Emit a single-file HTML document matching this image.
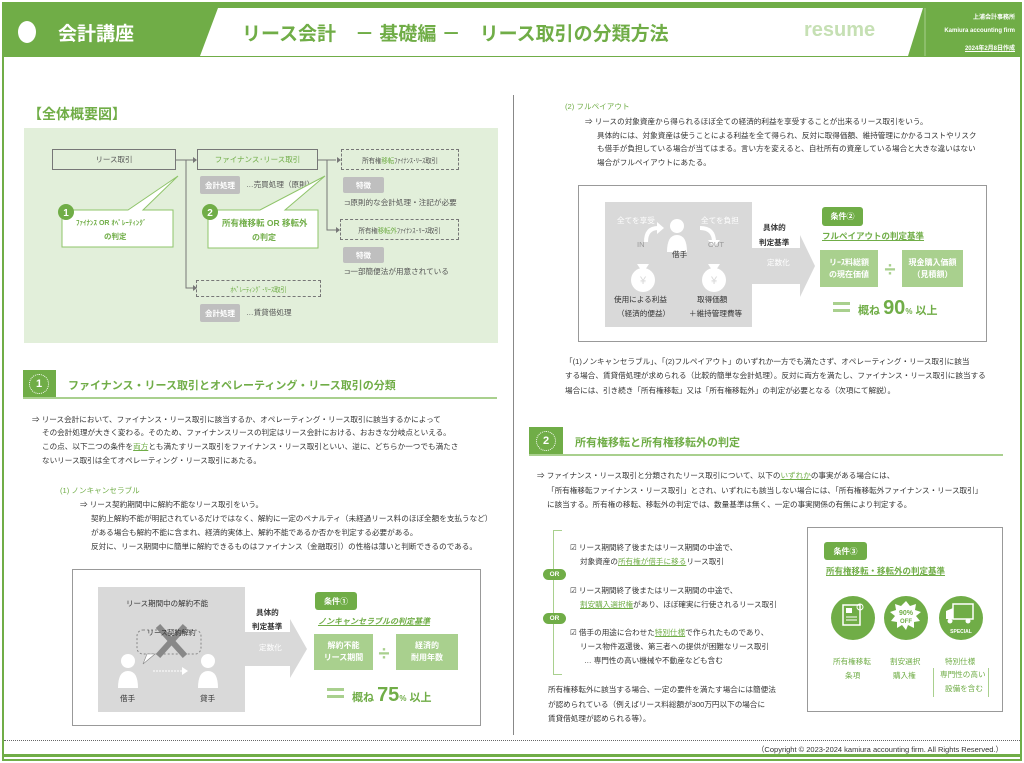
<!DOCTYPE html>
<html><head><meta charset="utf-8">
<style>
*{margin:0;padding:0;box-sizing:border-box}
body{width:1024px;height:763px;position:relative;background:#fff;font-family:"Liberation Sans","Noto Sans CJK JP",sans-serif;color:#333;overflow:hidden}
.a{position:absolute;white-space:nowrap}
.t{position:absolute;white-space:nowrap;font-size:7.6px;line-height:10px;color:#333}
.g{color:#70ad47}
.u{text-decoration:underline;color:#70ad47}
.box{position:absolute;border:1.3px solid #777;background:#e2efda;font-size:7.5px;color:#555;display:flex;align-items:center;justify-content:center;white-space:nowrap;overflow:hidden}
.dash{border-style:dashed;font-size:6.6px;letter-spacing:-0.2px}
.pill{position:absolute;background:#bfbfbf;color:#fff;font-size:7.5px;border-radius:2px;display:flex;align-items:center;justify-content:center;font-weight:bold}
.gp{position:absolute;background:#70ad47;color:#fff;font-size:8px;border-radius:3px;display:flex;align-items:center;justify-content:center;font-weight:bold}
.lg{position:absolute;background:#a9d08e;color:#fff;font-size:8px;display:flex;align-items:center;justify-content:center;text-align:center;line-height:12px;font-weight:bold}
.ln{position:absolute;background:#777}
.ci{position:absolute;border-radius:50%;background:#70ad47}
</style></head><body>
<div class="a" style="left:2px;top:2px;width:1020px;height:759px;border:2px solid #70ad47"></div>
<div class="a" style="left:4px;top:4px;width:1016px;height:53px;background:#70ad47"></div>
<div class="a" style="left:18px;top:21px;width:18px;height:22px;border-radius:50%;background:#fff"></div>
<div class="a" style="left:58px;top:19px;font-size:19px;color:#fff;font-weight:bold">会計講座</div>
<svg class="a" style="left:0;top:0" width="1024" height="60"><polygon points="218,8 923,8 908,56 200,56" fill="#fff"/><line x1="925" y1="8" x2="925" y2="56" stroke="#a9d08e" stroke-width="1"/></svg>
<div class="a" style="left:242px;top:19px;font-size:19px;color:#70ad47;font-weight:bold">リース会計　－ 基礎編 －　リース取引の分類方法</div>
<div class="a" style="left:804px;top:19px;font-size:20px;color:#c6e0b4;font-weight:bold">resume</div>
<div class="a" style="left:960px;top:12px;font-size:6px;color:#fff;font-weight:bold;text-align:right;width:55px">上浦会計事務所</div>
<div class="a" style="left:925px;top:28px;font-size:6px;color:#fff;font-weight:bold;text-align:right;width:90px">Kamiura accounting firm</div>
<div class="a" style="left:940px;top:43px;font-size:6px;color:#fff;font-weight:bold;text-align:right;width:75px;text-decoration:underline">2024年2月8日作成</div>

<div class="a" style="left:513px;top:95px;width:1px;height:640px;background:#888"></div>

<div class="a" style="left:28px;top:104px;font-size:14px;color:#70ad47;font-weight:bold">【全体概要図】</div>
<div class="a" style="left:24px;top:128px;width:474px;height:215px;background:#e2efda"></div>
<div class="box" style="left:52px;top:149px;width:124px;height:21px">リース取引</div>
<div class="box" style="left:197px;top:149px;width:121px;height:21px;color:#70ad47">ファイナンス･リース取引</div>
<div class="box dash" style="left:341px;top:149px;width:118px;height:21px">所有権<span class="g">移転</span>ﾌｧｲﾅﾝｽ･ﾘｰｽ取引</div>
<div class="box dash" style="left:340px;top:219px;width:119px;height:21px">所有権<span class="g">移転外</span>ﾌｧｲﾅﾝｽ･ﾘｰｽ取引</div>
<div class="box dash" style="left:196px;top:280px;width:125px;height:17px;color:#70ad47">ｵﾍﾟﾚｰﾃｨﾝｸﾞ･ﾘｰｽ取引</div>
<div class="pill" style="left:200px;top:176px;width:40px;height:18px">会計処理</div>
<div class="t" style="left:246px;top:180px;color:#555">…売買処理（原則）</div>
<div class="pill" style="left:343px;top:177px;width:41px;height:16px">特徴</div>
<div class="t" style="left:344px;top:198px;color:#555">⊐原則的な会計処理・注記が必要</div>
<div class="pill" style="left:343px;top:247px;width:41px;height:16px">特徴</div>
<div class="t" style="left:344px;top:267px;color:#555">⊐一部簡便法が用意されている</div>
<div class="pill" style="left:200px;top:304px;width:40px;height:18px">会計処理</div>
<div class="t" style="left:246px;top:308px;color:#555">…賃貸借処理</div>
<svg class="a" style="left:0;top:0" width="520" height="350">
<g stroke="#777" stroke-width="1" fill="none"><polyline points="176,160 186,160 186,288 193,288"/><line x1="186" y1="160" x2="193" y2="160"/><polyline points="318,160 327,160 327,230 336,230"/><line x1="327" y1="160" x2="336" y2="160"/></g>
<g fill="#777"><polygon points="193,157 197,160 193,163"/><polygon points="193,285 197,288 193,291"/><polygon points="337,157 341,160 337,163"/><polygon points="336,227 340,230 336,233"/></g>
<polygon points="62,210 128,210 178,176 143,210 173,210 173,247 62,247" fill="#fff" stroke="#8fc46a" stroke-width="1"/>
<polygon points="208,210 260,210 325,176 285,210 318,210 318,248 208,248" fill="#fff" stroke="#8fc46a" stroke-width="1"/>
<circle cx="66" cy="212" r="8" fill="#70ad47"/><circle cx="210" cy="212" r="8" fill="#70ad47"/>
<text x="66" y="216" fill="#fff" font-size="10" font-weight="bold" text-anchor="middle" font-family="Liberation Sans">1</text>
<text x="210" y="216" fill="#fff" font-size="10" font-weight="bold" text-anchor="middle" font-family="Liberation Sans">2</text>
</svg>
<div class="a" style="left:76px;top:218px;font-size:7px;color:#70ad47;font-weight:bold">ﾌｧｲﾅﾝｽ OR ｵﾍﾟﾚｰﾃｨﾝｸﾞ</div>
<div class="a" style="left:104px;top:231px;font-size:7.5px;color:#70ad47;font-weight:bold">の判定</div>
<div class="a" style="left:222px;top:217px;font-size:8.5px;color:#70ad47;font-weight:bold">所有権移転 OR 移転外</div>
<div class="a" style="left:252px;top:232px;font-size:8px;color:#70ad47;font-weight:bold">の判定</div>

<div class="a" style="left:23px;top:370px;width:33px;height:28px;background:#70ad47"></div>
<div class="a" style="left:29px;top:374px;width:20px;height:20px;border:1px dotted #fff;border-radius:50%;color:#fff;font-size:11px;font-weight:bold;text-align:center;line-height:18px">1</div>
<div class="a" style="left:23px;top:397px;width:474px;height:2px;background:#a9d08e"></div>
<div class="a" style="left:68px;top:377px;font-size:11px;color:#70ad47;font-weight:bold">ファイナンス・リース取引とオペレーティング・リース取引の分類</div>
<div class="t" style="left:32px;top:415px">⇒ リース会計において、ファイナンス・リース取引に該当するか、オペレーティング・リース取引に該当するかによって</div>
<div class="t" style="left:42px;top:428px">その会計処理が大きく変わる。そのため、ファイナンスリースの判定はリース会計における、おおきな分岐点といえる。</div>
<div class="t" style="left:42px;top:442px">この点、以下二つの条件を<span class="u">両方</span>とも満たすリース取引をファイナンス・リース取引といい、逆に、どちらか一つでも満たさ</div>
<div class="t" style="left:42px;top:456px">ないリース取引は全てオペレーティング・リース取引にあたる。</div>
<div class="t g" style="left:60px;top:486px">(1) ノンキャンセラブル</div>
<div class="t" style="left:80px;top:500px">⇒ リース契約期間中に解約不能なリース取引をいう。</div>
<div class="t" style="left:91px;top:514px">契約上解約不能が明記されているだけではなく、解約に一定のペナルティ（未経過リース料のほぼ全額を支払うなど）</div>
<div class="t" style="left:91px;top:528px">がある場合も解約不能に含まれ、経済的実体上、解約不能であるか否かを判定する必要がある。</div>
<div class="t" style="left:91px;top:542px">反対に、リース期間中に簡単に解約できるものはファイナンス（金融取引）の性格は薄いと判断できるのである。</div>

<div class="a" style="left:72px;top:569px;width:409px;height:157px;border:1.5px solid #999"></div>
<div class="a" style="left:98px;top:587px;width:147px;height:125px;background:#d9d9d9"></div>
<svg class="a" style="left:0;top:560" width="520" height="170">
<polygon points="245,72 290,72 290,59 307,89 290,118 290,106 245,106" fill="#d9d9d9"/>
<rect x="137" y="70" width="64" height="24" rx="6" fill="none" stroke="#888" stroke-dasharray="2,2"/>
<polygon points="147,94 143,104 155,94" fill="#fff" stroke="#888" stroke-width=".6"/>
<line x1="158" y1="66" x2="185" y2="96" stroke="#888" stroke-width="6"/><line x1="185" y1="66" x2="158" y2="96" stroke="#888" stroke-width="6"/>
<circle cx="128" cy="101" r="7" fill="#fff"/><path d="M118,128 q0,-17 10,-17 q10,0 10,17z" fill="#fff"/>
<circle cx="208" cy="101" r="7" fill="#fff"/><path d="M198,128 q0,-17 10,-17 q10,0 10,17z" fill="#fff"/>
<line x1="153" y1="111" x2="182" y2="111" stroke="#fff" stroke-dasharray="2,1"/><polygon points="182,107 188,111 182,115" fill="#fff"/>
<rect x="327" y="128" width="17" height="3" fill="#a9d08e"/><rect x="327" y="135" width="17" height="3" fill="#a9d08e"/>
<text x="384" y="100" font-size="20" fill="#a9d08e" text-anchor="middle" font-weight="bold">÷</text>
</svg>
<div class="t" style="left:126px;top:599px;font-size:7.5px">リース期間中の解約不能</div>
<div class="t" style="left:147px;top:629px;font-size:7px">リース契約解約</div>
<div class="t" style="left:120px;top:694px">借手</div>
<div class="t" style="left:200px;top:694px">貸手</div>
<div class="t" style="left:256px;top:608px;font-weight:bold">具体的</div>
<div class="t" style="left:252px;top:622px;font-weight:bold">判定基準</div>
<div class="t" style="left:259px;top:643px;color:#fff">定数化</div>
<div class="gp" style="left:315px;top:592px;width:42px;height:18px">条件①</div>
<div class="t u" style="left:318px;top:617px;font-size:8px;font-style:italic;font-weight:bold">ノンキャンセラブルの判定基準</div>
<div class="lg" style="left:314px;top:634px;width:59px;height:36px">解約不能<br>リース期間</div>
<div class="lg" style="left:396px;top:634px;width:62px;height:36px">経済的<br>耐用年数</div>
<div class="a" style="left:352px;top:684px;font-size:11px;color:#70ad47;font-weight:bold">概ね <span style="font-size:20px">75</span><span style="font-size:8px">%</span> 以上</div>

<div class="t g" style="left:565px;top:102px">(2) フルペイアウト</div>
<div class="t" style="left:585px;top:117px">⇒ リースの対象資産から得られるほぼ全ての経済的利益を享受することが出来るリース取引をいう。</div>
<div class="t" style="left:597px;top:131px">具体的には、対象資産は使うことによる利益を全て得られ、反対に取得価額、維持管理にかかるコストやリスク</div>
<div class="t" style="left:597px;top:144px">も借手が負担している場合が当てはまる。言い方を変えると、自社所有の資産している場合と大きな違いはない</div>
<div class="t" style="left:597px;top:158px">場合がフルペイアウトにあたる。</div>

<div class="a" style="left:578px;top:185px;width:409px;height:157px;border:1.5px solid #999"></div>
<div class="a" style="left:605px;top:202px;width:147px;height:125px;background:#d9d9d9"></div>
<svg class="a" style="left:0;top:180" width="1024" height="170">
<polygon points="752,68 800,68 800,55 815,86 800,117 800,104 752,104" fill="#d9d9d9"/>
<circle cx="677" cy="46" r="7" fill="#fff"/><path d="M667,72 q0,-17 10,-17 q10,0 10,17z" fill="#fff"/>
<path d="M646,62 q0,-14 12,-14" stroke="#fff" stroke-width="4" fill="none"/><polygon points="657,42 664,48 657,54" fill="#fff"/>
<path d="M700,48 q14,0 14,14" stroke="#fff" stroke-width="4" fill="none"/><polygon points="708,60 714,67 720,60" fill="#fff"/>
<circle cx="643" cy="100" r="12" fill="#fff"/><polygon points="637,84 649,84 645,90 641,90" fill="#fff"/>
<circle cx="714" cy="100" r="12" fill="#fff"/><polygon points="708,84 720,84 716,90 712,90" fill="#fff"/>
<text x="643" y="104" font-size="11" fill="#d9d9d9" text-anchor="middle">¥</text>
<text x="714" y="104" font-size="11" fill="#d9d9d9" text-anchor="middle">¥</text>
<rect x="833" y="122" width="17" height="3" fill="#a9d08e"/><rect x="833" y="129" width="17" height="3" fill="#a9d08e"/>
<text x="890" y="96" font-size="20" fill="#a9d08e" text-anchor="middle" font-weight="bold">÷</text>
</svg>
<div class="t" style="left:617px;top:216px;color:#fff">全てを享受</div>
<div class="t" style="left:701px;top:216px;color:#fff">全てを負担</div>
<div class="t" style="left:637px;top:240px;color:#999">IN</div>
<div class="t" style="left:708px;top:240px;color:#999">OUT</div>
<div class="t" style="left:672px;top:250px">借手</div>
<div class="t" style="left:614px;top:295px">使用による利益</div>
<div class="t" style="left:617px;top:309px">（経済的便益）</div>
<div class="t" style="left:697px;top:295px">取得価額</div>
<div class="t" style="left:689px;top:309px">＋維持管理費等</div>
<div class="t" style="left:763px;top:223px;font-weight:bold">具体的</div>
<div class="t" style="left:759px;top:238px;font-weight:bold">判定基準</div>
<div class="t" style="left:767px;top:258px;color:#fff">定数化</div>
<div class="gp" style="left:822px;top:207px;width:41px;height:19px">条件②</div>
<div class="t u" style="left:822px;top:231px;font-size:8.5px;font-weight:bold">フルペイアウトの判定基準</div>
<div class="lg" style="left:820px;top:250px;width:58px;height:37px">リｰｽ料総額<br>の現在価値</div>
<div class="lg" style="left:902px;top:250px;width:61px;height:37px">現金購入価額<br>（見積額）</div>
<div class="a" style="left:858px;top:297px;font-size:11px;color:#70ad47;font-weight:bold">概ね <span style="font-size:20px">90</span><span style="font-size:8px">%</span> 以上</div>

<div class="t" style="left:565px;top:357px">「(1)ノンキャンセラブル」、「(2)フルペイアウト」のいずれか一方でも満たさず、オペレーティング・リース取引に該当</div>
<div class="t" style="left:565px;top:371px">する場合、賃貸借処理が求められる（比較的簡単な会計処理）。反対に両方を満たし、ファイナンス・リース取引に該当する</div>
<div class="t" style="left:565px;top:386px">場合には、引き続き「所有権移転」又は「所有権移転外」の判定が必要となる（次項にて解説）。</div>

<div class="a" style="left:529px;top:427px;width:34px;height:28px;background:#70ad47"></div>
<div class="a" style="left:536px;top:431px;width:20px;height:20px;border:1px dotted #fff;border-radius:50%;color:#fff;font-size:11px;font-weight:bold;text-align:center;line-height:18px">2</div>
<div class="a" style="left:529px;top:454px;width:474px;height:2px;background:#a9d08e"></div>
<div class="a" style="left:575px;top:434px;font-size:11px;color:#70ad47;font-weight:bold">所有権移転と所有権移転外の判定</div>
<div class="t" style="left:537px;top:471px">⇒ ファイナンス・リース取引と分類されたリース取引について、以下の<span class="u">いずれか</span>の事実がある場合には、</div>
<div class="t" style="left:547px;top:486px">「所有権移転ファイナンス・リース取引」とされ、いずれにも該当しない場合には、「所有権移転外ファイナンス・リース取引」</div>
<div class="t" style="left:547px;top:500px">に該当する。所有権の移転、移転外の判定では、数量基準は無く、一定の事実関係の有無により判定する。</div>

<div class="a" style="left:553px;top:530px;width:9px;height:145px;border:1.5px solid #a9d08e;border-right:none"></div>
<div class="a" style="left:543px;top:569px;width:23px;height:11px;border-radius:6px;background:#70ad47;color:#fff;font-size:6.5px;font-weight:bold;text-align:center;line-height:11px">OR</div>
<div class="a" style="left:543px;top:613px;width:23px;height:11px;border-radius:6px;background:#70ad47;color:#fff;font-size:6.5px;font-weight:bold;text-align:center;line-height:11px">OR</div>
<div class="t" style="left:570px;top:543px">☑ リース期間終了後またはリース期間の中途で、</div>
<div class="t" style="left:580px;top:557px">対象資産の<span class="u">所有権が借手に移る</span>リース取引</div>
<div class="t" style="left:570px;top:586px">☑ リース期間終了後またはリース期間の中途で、</div>
<div class="t" style="left:580px;top:600px"><span class="u">割安購入選択権</span>があり、ほぼ確実に行使されるリース取引</div>
<div class="t" style="left:570px;top:628px">☑ 借手の用途に合わせた<span class="u">特別仕様</span>で作られたものであり、</div>
<div class="t" style="left:580px;top:642px">リース物件返還後、第三者への提供が困難なリース取引</div>
<div class="t" style="left:584px;top:656px">… 専門性の高い機械や不動産なども含む</div>
<div class="t" style="left:548px;top:685px">所有権移転外に該当する場合、一定の要件を満たす場合には簡便法</div>
<div class="t" style="left:548px;top:700px">が認められている（例えばリース料総額が300万円以下の場合に</div>
<div class="t" style="left:548px;top:714px">賃貸借処理が認められる等）。</div>

<div class="a" style="left:807px;top:527px;width:196px;height:185px;border:1.5px solid #999"></div>
<div class="gp" style="left:824px;top:542px;width:43px;height:18px">条件③</div>
<div class="t u" style="left:826px;top:566px;font-size:8.5px;font-weight:bold">所有権移転・移転外の判定基準</div>
<div class="ci" style="left:831px;top:596px;width:44px;height:44px"></div>
<div class="ci" style="left:884px;top:596px;width:44px;height:44px"></div>
<div class="ci" style="left:939px;top:596px;width:44px;height:44px"></div>
<svg class="a" style="left:0;top:590" width="1024" height="60">
<rect x="843" y="15" width="17" height="20" fill="none" stroke="#fff" stroke-width="1.5"/><rect x="846" y="18" width="6" height="5" fill="#fff"/><circle cx="860" cy="17" r="3" fill="none" stroke="#fff"/><line x1="846" y1="27" x2="857" y2="27" stroke="#fff"/><line x1="846" y1="30" x2="857" y2="30" stroke="#fff"/>
<polygon points="906,11 910,16 916,14 915,20 921,22 916,26 920,31 914,32 914,38 908,35 906,40 902,35 897,38 897,32 891,31 895,26 890,22 896,20 895,14 901,16" fill="#fff"/>
<text x="906" y="25" font-size="7" fill="#70ad47" font-weight="bold" text-anchor="middle">90%</text><text x="906" y="33" font-size="6" fill="#70ad47" font-weight="bold" text-anchor="middle">OFF</text>
<rect x="953" y="14" width="20" height="15" fill="none" stroke="#fff" stroke-width="1.5"/><polygon points="946,29 946,21 953,18 953,29" fill="#fff"/><circle cx="950" cy="31" r="2.5" fill="#fff"/><circle cx="968" cy="31" r="2.5" fill="#fff"/>
<text x="961" y="43" font-size="5" fill="#fff" font-weight="bold" text-anchor="middle">SPECIAL</text>
</svg>
<div class="t g" style="left:833px;top:657px">所有権移転</div>
<div class="t g" style="left:845px;top:671px">条項</div>
<div class="t g" style="left:890px;top:657px">割安選択</div>
<div class="t g" style="left:893px;top:671px">購入権</div>
<div class="t g" style="left:945px;top:657px">特別仕様</div>
<div class="a" style="left:933px;top:668px;width:56px;height:29px;border:1px solid #a9d08e;border-top:none;border-bottom:none"></div>
<div class="t g" style="left:940px;top:670px">専門性の高い</div>
<div class="t g" style="left:945px;top:684px">設備を含む</div>

<div class="a" style="left:4px;top:740px;width:1016px;height:0;border-top:1px dotted #666"></div>
<div class="a" style="left:700px;top:744px;width:303px;text-align:right;font-size:7.5px;color:#333">（Copyright © 2023-2024 kamiura accounting firm. All Rights Reserved.）</div>
<div class="a" style="left:4px;top:754px;width:1016px;height:3px;background:#70ad47"></div>
<div class="a" style="left:4px;top:759px;width:1016px;height:2px;background:#70ad47"></div>
</body></html>
